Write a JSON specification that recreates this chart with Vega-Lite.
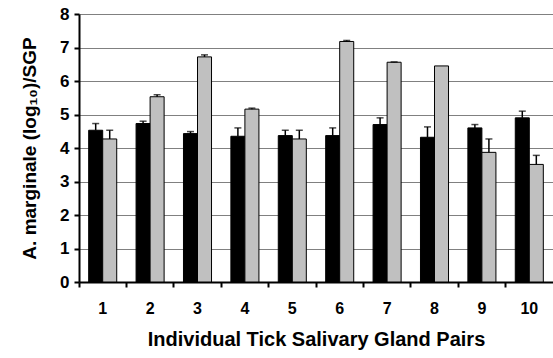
{
  "$schema": "https://vega.github.io/schema/vega-lite/v6.json",
  "width": 474,
  "height": 268,
  "autosize": {"type": "none"},
  "padding": {"left": 79, "top": 14, "right": 0, "bottom": 76},
  "background": "white",
  "config": {
    "view": {"stroke": null},
    "font": "Liberation Sans",
    "axisY": {
      "titleFontSize": 19,
      "titleFontWeight": "bold",
      "titleColor": "black",
      "titlePadding": 20,
      "labelOverlap": false,
      "labelFontSize": 17,
      "labelFontWeight": "bold",
      "labelColor": "black",
      "labelPadding": 5,
      "tickSize": 5,
      "tickWidth": 2,
      "tickColor": "black",
      "domainColor": "black",
      "domainWidth": 2,
      "grid": true,
      "gridColor": "#808080",
      "gridWidth": 1
    }
  },
  "data": {
    "values": [
      {"pair": "1", "s": "A", "v": 4.53, "hi": 4.73},
      {"pair": "1", "s": "B", "v": 4.27, "hi": 4.53},
      {"pair": "2", "s": "A", "v": 4.73, "hi": 4.80},
      {"pair": "2", "s": "B", "v": 5.53, "hi": 5.59},
      {"pair": "3", "s": "A", "v": 4.43, "hi": 4.49},
      {"pair": "3", "s": "B", "v": 6.72, "hi": 6.78},
      {"pair": "4", "s": "A", "v": 4.35, "hi": 4.60},
      {"pair": "4", "s": "B", "v": 5.16, "hi": 5.19},
      {"pair": "5", "s": "A", "v": 4.37, "hi": 4.53},
      {"pair": "5", "s": "B", "v": 4.27, "hi": 4.53},
      {"pair": "6", "s": "A", "v": 4.37, "hi": 4.60},
      {"pair": "6", "s": "B", "v": 7.18, "hi": 7.21},
      {"pair": "7", "s": "A", "v": 4.70, "hi": 4.90},
      {"pair": "7", "s": "B", "v": 6.56, "hi": 6.57},
      {"pair": "8", "s": "A", "v": 4.32, "hi": 4.63},
      {"pair": "8", "s": "B", "v": 6.45, "hi": null},
      {"pair": "9", "s": "A", "v": 4.60, "hi": 4.70},
      {"pair": "9", "s": "B", "v": 3.87, "hi": 4.27},
      {"pair": "10", "s": "A", "v": 4.90, "hi": 5.10},
      {"pair": "10", "s": "B", "v": 3.51, "hi": 3.78}
    ]
  },
  "encoding": {
    "x": {
      "field": "pair",
      "type": "ordinal",
      "sort": null,
      "scale": {"paddingInner": 0, "paddingOuter": 0},
      "axis": {
        "title": "Individual Tick Salivary Gland Pairs",
        "titleFontSize": 20,
        "titleFontWeight": "bold",
        "titleColor": "black",
        "titlePadding": 13,
        "labelAngle": 0,
        "labelFontSize": 16,
        "labelFontWeight": "bold",
        "labelColor": "black",
        "labelPadding": 13,
        "bandPosition": 0,
        "tickSize": 5,
        "tickWidth": 2,
        "tickColor": "black",
        "domainColor": "black",
        "domainWidth": 2,
        "grid": false
      }
    },
    "xOffset": {
      "field": "s",
      "type": "nominal",
      "scale": {"paddingInner": 0, "paddingOuter": 0.69}
    }
  },
  "layer": [
    {
      "mark": {"type": "bar", "stroke": "black", "strokeWidth": 1},
      "encoding": {
        "y": {
          "field": "v",
          "type": "quantitative",
          "scale": {"domain": [0, 8], "nice": false},
          "axis": {"title": "A. marginale (log₁₀)/SGP", "values": [0, 1, 2, 3, 4, 5, 6, 7, 8]}
        },
        "color": {
          "field": "s",
          "type": "nominal",
          "scale": {"domain": ["A", "B"], "range": ["#000000", "#c0c0c0"]},
          "legend": null
        }
      }
    },
    {
      "transform": [{"filter": "datum.hi != null"}],
      "mark": {"type": "rule", "color": "black", "strokeWidth": 1.5},
      "encoding": {
        "y": {"field": "v", "type": "quantitative", "axis": {"title": "A. marginale (log₁₀)/SGP", "values": [0, 1, 2, 3, 4, 5, 6, 7, 8]}},
        "y2": {"field": "hi"}
      }
    },
    {
      "transform": [{"filter": "datum.hi != null"}],
      "mark": {"type": "tick", "color": "black", "orient": "horizontal", "size": 7, "thickness": 1.5},
      "encoding": {
        "y": {"field": "hi", "type": "quantitative", "axis": {"title": "A. marginale (log₁₀)/SGP", "values": [0, 1, 2, 3, 4, 5, 6, 7, 8]}}
      }
    }
  ]
}
